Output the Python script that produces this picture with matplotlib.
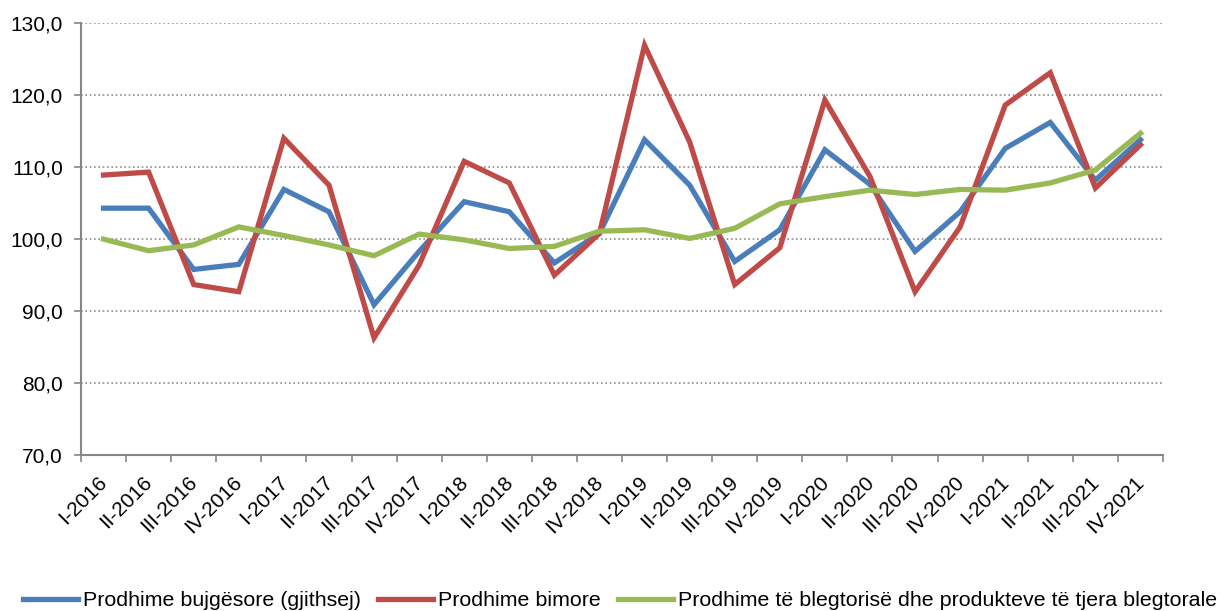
import matplotlib
matplotlib.use("Agg")
import matplotlib.pyplot as plt
import matplotlib.transforms as mtransforms
import numpy as np

plt.rcParams['font.family'] = ['Liberation Sans', 'DejaVu Sans']

categories = ["I-2016", "II-2016", "III-2016", "IV-2016",
              "I-2017", "II-2017", "III-2017", "IV-2017",
              "I-2018", "II-2018", "III-2018", "IV-2018",
              "I-2019", "II-2019", "III-2019", "IV-2019",
              "I-2020", "II-2020", "III-2020", "IV-2020",
              "I-2021", "II-2021", "III-2021", "IV-2021"]

bujgesore = [104.3, 104.3, 95.8, 96.5, 106.9, 103.8, 90.9, 98.3,
             105.2, 103.8, 96.7, 100.8, 113.8, 107.5, 96.9, 101.3,
             112.4, 107.6, 98.3, 103.8, 112.6, 116.2, 108.2, 113.8]
bimore = [108.9, 109.3, 93.7, 92.7, 114.0, 107.5, 86.3, 96.4,
          110.8, 107.8, 95.0, 100.8, 126.9, 113.5, 93.7, 98.8,
          119.3, 108.7, 92.7, 101.7, 118.6, 123.1, 107.1, 113.1]
blegtorale = [100.0, 98.4, 99.2, 101.7, 100.5, 99.2, 97.7, 100.7,
              99.9, 98.7, 99.0, 101.1, 101.3, 100.1, 101.5, 104.9,
              105.9, 106.8, 106.2, 106.9, 106.8, 107.8, 109.6, 114.7]

series_names = ["Prodhime bujgësore (gjithsej)", "Prodhime bimore",
                "Prodhime të blegtorisë dhe produkteve të tjera blegtorale"]
colors = ["#4A7EBB", "#BE4B48", "#98B954"]
yticks = [70, 80, 90, 100, 110, 120, 130]

FS = 15
LFS = 15.4

fig = plt.figure(figsize=(12.21, 6.11), dpi=100)
ax = fig.add_axes([81 / 1221, 1 - 455.3 / 611, (1163 - 81) / 1221, (455.3 - 23) / 611])

x = np.arange(len(categories))
for vals, name, c in zip([bujgesore, bimore, blegtorale], series_names, colors):
    ax.plot(x, vals, color=c, lw=3.8, label=name, solid_joinstyle='miter')

ax.set_xlim(-0.5, len(categories) - 0.5)
ax.set_ylim(70, 130)
ax.set_yticks(yticks)
ax.set_yticklabels([f"{v:.1f}".replace('.', ',') for v in yticks], fontsize=FS)
for v in yticks[1:]:
    ax.axhline(v, color='#8c8c8c', lw=1.2, ls=(0, (1, 1.6)), zorder=0)

ax.set_xticks(np.arange(-0.5, len(categories), 1.0))
ax.set_xticklabels([])
ax.set_xticks(x, minor=True)
ax.set_xticklabels(categories, minor=True, rotation=45, ha='right',
                   va='top', rotation_mode='anchor', fontsize=FS)
ax.tick_params(axis='x', which='minor', length=0, pad=9)
ax.tick_params(axis='x', which='major', length=5, color='#868686', width=1.2, direction='out')
ax.tick_params(axis='y', length=5, color='#868686', width=1.2, direction='out', pad=8)

offset = mtransforms.ScaledTranslation(-6 / 100, -5 / 100, fig.dpi_scale_trans)
for lbl in ax.get_xticklabels(minor=True):
    lbl.set_transform(lbl.get_transform() + offset)

for s in ['top', 'right']:
    ax.spines[s].set_visible(False)
for s in ['left', 'bottom']:
    ax.spines[s].set_color('#868686')
    ax.spines[s].set_linewidth(1.5)

fig.legend(loc='center', ncol=3, frameon=False, fontsize=LFS,
           handlelength=2.55, handletextpad=0.25, columnspacing=0.8,
           bbox_to_anchor=(0.508, 1 - 601 / 611))

fig.savefig("out.png", dpi=100)
